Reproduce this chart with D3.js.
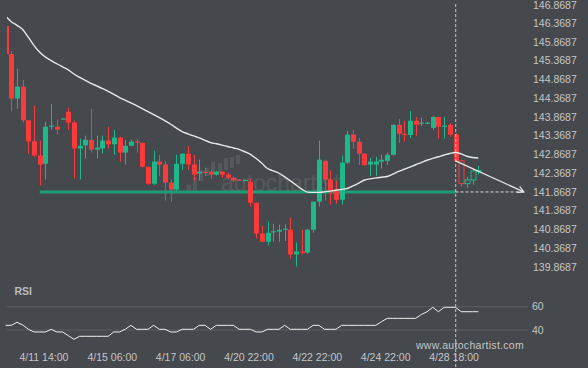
<!DOCTYPE html>
<html><head><meta charset="utf-8">
<script src="https://cdn.jsdelivr.net/npm/d3@7"></script>
<style>html,body{margin:0;padding:0;background:#45484c;overflow:hidden}</style>
</head><body><svg id="c" width="588" height="368"></svg>
<script>
const opens  = [146.30,145.55,144.36,144.68,143.78,143.22,142.84,142.62,143.62,143.61,143.81,144.01,143.72,143.03,143.11,143.26,143.00,143.03,143.24,143.14,143.32,142.92,143.10,143.22,143.18,142.54,142.09,142.68,142.60,142.12,141.93,142.62,142.89,142.60,142.36,142.41,142.41,142.33,142.41,142.33,142.25,142.20,142.18,142.14,141.58,140.76,140.54,140.80,140.81,140.86,140.86,140.20,140.28,140.25,140.86,141.61,142.70,142.20,141.90,141.66,142.65,143.40,143.21,142.89,142.60,142.60,142.68,142.70,142.86,143.66,143.42,143.39,143.77,143.69,143.70,143.58,143.87,143.63,143.66,143.40,142.70,142.09,142.19,142.42];
const highs  = [146.32,145.63,145.16,144.86,143.78,144.17,143.24,143.74,144.22,143.80,143.83,144.12,143.77,143.29,143.37,144.09,143.37,143.37,143.61,143.53,143.34,143.26,143.26,143.29,143.18,142.54,142.97,142.86,142.70,142.20,142.86,142.89,143.10,142.86,142.73,142.52,142.46,142.43,142.42,142.38,142.28,142.21,142.20,142.22,141.58,140.97,141.08,141.02,141.00,141.00,141.18,140.52,140.86,140.89,141.61,143.24,142.73,142.44,142.17,142.84,143.50,143.53,143.31,142.89,142.78,142.81,142.86,142.92,143.68,143.82,143.77,144.03,143.87,143.85,143.74,143.89,143.88,143.87,143.71,143.44,142.73,142.27,142.51,142.57];
const lows   = [145.50,144.02,144.09,143.72,142.89,142.79,142.04,142.20,143.53,143.40,143.81,143.53,142.23,142.20,142.76,142.92,142.76,142.90,143.03,142.86,142.68,142.60,143.10,142.92,142.52,142.06,142.06,142.30,141.64,141.61,141.90,142.46,142.46,142.17,142.17,142.30,142.22,142.31,142.25,142.22,142.14,142.16,142.18,141.47,140.62,140.53,140.44,140.54,140.54,140.56,140.09,139.88,140.20,140.22,140.78,141.48,141.64,141.53,141.56,141.53,142.62,143.02,142.59,142.57,142.30,142.30,142.49,142.59,142.84,143.18,143.21,143.31,143.37,143.63,143.69,143.53,143.29,143.29,143.34,142.68,142.01,141.98,142.06,142.33];
const closes = [145.55,144.36,144.68,143.78,143.22,142.84,142.60,143.61,143.64,143.53,143.83,143.72,143.03,143.10,143.26,143.00,143.05,143.24,143.14,143.32,142.92,143.10,143.21,143.20,142.54,142.09,142.68,142.60,142.12,141.93,142.62,142.89,142.60,142.33,142.41,142.38,142.33,142.41,142.33,142.25,142.17,142.17,142.19,141.58,140.76,140.54,140.78,140.82,140.86,140.89,140.20,140.28,140.25,140.86,141.61,142.73,142.20,141.90,141.66,142.65,143.40,143.21,142.89,142.59,142.68,142.68,142.73,142.86,143.66,143.42,143.39,143.77,143.66,143.72,143.72,143.87,143.61,143.64,143.40,142.70,142.09,142.19,142.43,142.44];
const maValues = [146.567,146.413,146.314,146.202,145.992,145.773,145.594,145.466,145.376,145.290,145.208,145.128,145.016,144.928,144.848,144.768,144.699,144.629,144.555,144.472,144.389,144.317,144.245,144.171,144.091,144.013,143.934,143.851,143.768,143.675,143.574,143.478,143.419,143.363,143.312,143.248,143.187,143.155,143.120,143.083,143.043,143.003,142.942,142.870,142.760,142.635,142.494,142.430,142.368,142.270,142.166,142.054,141.945,141.865,141.857,141.857,141.870,141.891,141.913,141.937,141.961,142.030,142.105,142.187,142.217,142.243,142.262,142.281,142.342,142.417,142.475,142.531,142.595,142.654,142.715,142.763,142.808,142.854,142.896,142.923,142.883,142.822,142.787,142.774];
const rsiValues = [44.0,44.0,46.6,44.3,40.6,38.3,38.3,38.3,40.6,38.3,38.3,35.2,32.0,34.6,34.6,34.6,34.6,34.6,34.6,38.3,38.3,40.6,44.0,40.6,40.6,40.6,44.0,40.6,40.6,38.3,38.3,40.6,40.6,40.6,44.0,44.0,40.6,44.0,44.0,44.0,44.0,40.6,40.6,40.6,38.3,38.3,40.6,40.6,40.6,44.0,40.6,40.6,40.6,40.6,44.0,44.0,40.6,40.6,40.6,44.0,44.0,44.0,44.0,44.0,44.0,44.0,47.1,50.0,50.0,50.0,50.0,50.0,50.0,53.3,55.7,59.5,55.7,59.5,59.5,59.5,55.7,55.7,55.7,55.7];
const tickIndex = [7,19,31,43,55,67,79];
const tickLabels = ["4/11 14:00","4/15 06:00","4/17 06:00","4/20 22:00","4/22 22:00","4/24 22:00","4/28 18:00"];
const priceTicks = [139.8687,140.3687,140.8687,141.3687,141.8687,142.3687,142.8687,143.3687,143.8687,144.3687,144.8687,145.3687,145.8687,146.3687,146.8687];
const rsiTicks = [40,60];
const supportLevel = 141.8687;
const supportStart = 6, patternEnd = 79, projectionEnd = 91;
const projectionStartPrice = 142.70;

const BG = "#45484c", RED = "#fb3b3b", GREEN = "#1db98a", TXT = "#c4c6c8";
const svg = d3.select("#c");
svg.append("rect").attr("width",588).attr("height",368).attr("fill",BG);

const x = d3.scaleLinear().domain([0,83]).range([5.6,478.3]);
const y = d3.scaleLinear().domain([139.8687,146.8687]).range([266.9,4.6]);
const yr = d3.scaleLinear().domain([40,60]).range([330,306.7]);

svg.append("defs").append("clipPath").attr("id","clip")
  .append("rect").attr("x",7).attr("y",0).attr("width",521).attr("height",368);

// watermark
const wm = svg.append("g").attr("opacity",0.09);
[[187,185,4,5],[193,177,4,13],[199,170,4,11],[205,168,4,8],[211,162,4,10],[218,163,4,10],[224,158,4,12],[230,157,4,11],[236,155,4,9]].forEach(r=>{
  wm.append("rect").attr("x",r[0]).attr("y",r[1]).attr("width",r[2]).attr("height",r[3]).attr("fill","#ffffff");
});
wm.append("text").attr("x",221).attr("y",191).attr("font-family","Liberation Sans, Arial, sans-serif")
  .attr("font-size",23).attr("fill","#ffffff").text("autochartist");

// RSI gridlines
svg.append("g").selectAll("line").data(rsiTicks).join("line")
  .attr("x1",7).attr("x2",528).attr("y1",d=>yr(d)).attr("y2",d=>yr(d))
  .attr("stroke","#5b5e62").attr("stroke-width",1);

const plot = svg.append("g").attr("clip-path","url(#clip)");

// support line
plot.append("line").attr("x1",x(supportStart)).attr("x2",x(patternEnd))
  .attr("y1",y(supportLevel)).attr("y2",y(supportLevel))
  .attr("stroke","#1e9d77").attr("stroke-width",3);

// candles
const idx = d3.range(opens.length);
const cg = plot.append("g");
idx.forEach(i=>{
  const up = closes[i] >= opens[i];
  const col = up ? GREEN : RED;
  const hollow = i > patternEnd;
  const cx = Math.round(x(i));
  cg.append("line").attr("x1",cx+0.5).attr("x2",cx+0.5).attr("y1",y(highs[i])).attr("y2",y(lows[i]))
    .attr("stroke",col).attr("stroke-width",1);
  const top = y(Math.max(opens[i],closes[i])), bot = y(Math.min(opens[i],closes[i]));
  const h = Math.max(1.2, bot-top);
  if (hollow) {
    cg.append("rect").attr("x",cx-2).attr("y",top).attr("width",5).attr("height",h)
      .attr("fill",BG).attr("stroke",col).attr("stroke-width",1);
  } else {
    cg.append("rect").attr("x",cx-2).attr("y",top).attr("width",5).attr("height",h).attr("fill",col);
  }
});

// moving average
plot.append("path").datum(maValues)
  .attr("d", d3.line().x((d,i)=>x(i)).y(d=>y(d)).curve(d3.curveMonotoneX))
  .attr("fill","none").attr("stroke","#e8e8e8").attr("stroke-width",1.4);

// projection
const px1 = x(patternEnd), py1 = y(projectionStartPrice), px2 = x(projectionEnd), py2 = y(supportLevel);
svg.append("line").attr("x1",px1).attr("x2",px2).attr("y1",y(supportLevel)).attr("y2",y(supportLevel))
  .attr("stroke","#dcdcdc").attr("stroke-width",1).attr("stroke-dasharray","3,2");
svg.append("line").attr("x1",px1).attr("x2",px2).attr("y1",py1).attr("y2",py2)
  .attr("stroke","#e8e8e8").attr("stroke-width",1.3);
const ang = Math.atan2(py2-py1, px2-px1), al = 7, aw = 0.5;
svg.append("path").attr("d",
  `M${px2-al*Math.cos(ang-aw)},${py2-al*Math.sin(ang-aw)}L${px2},${py2}L${px2-al*Math.cos(ang+aw)},${py2-al*Math.sin(ang+aw)}`)
  .attr("fill","none").attr("stroke","#e8e8e8").attr("stroke-width",1.2);

// vertical dashed line
svg.append("line").attr("x1",x(patternEnd)+0.2).attr("x2",x(patternEnd)+0.2).attr("y1",4).attr("y2",368)
  .attr("stroke","#c8c8c8").attr("stroke-width",1).attr("stroke-dasharray","3,2");

// RSI line
svg.append("path").datum(rsiValues)
  .attr("d", d3.line().x((d,i)=>x(i)).y(d=>yr(d)))
  .attr("fill","none").attr("stroke","#f0f0f0").attr("stroke-width",1);

const font = "Liberation Sans, Arial, Helvetica, sans-serif";
// price axis
svg.append("g").selectAll("text").data(priceTicks).join("text")
  .attr("x",533).attr("y",d=>Math.max(y(d),5.8)).attr("dy","0.35em")
  .attr("font-family",font).attr("font-size",10.5).attr("fill",TXT)
  .text(d=>d.toFixed(4));
// rsi axis
svg.append("g").selectAll("text").data(rsiTicks).join("text")
  .attr("x",532).attr("y",d=>yr(d)).attr("dy","0.35em")
  .attr("font-family",font).attr("font-size",10.5).attr("fill",TXT)
  .text(d=>d);
// x labels
svg.append("g").selectAll("text").data(tickIndex).join("text")
  .attr("x",d=>x(d)-1.5).attr("y",357).attr("dy","0.35em").attr("text-anchor","middle")
  .attr("font-family",font).attr("font-size",10.5).attr("fill",TXT)
  .text((d,i)=>tickLabels[i]);

svg.append("text").attr("x",14.5).attr("y",291).attr("dy","0.35em")
  .attr("font-family",font).attr("font-size",10.5).attr("font-weight","bold").attr("fill","#b9bcc0").text("RSI");
svg.append("text").attr("x",470).attr("y",345).attr("dy","0.35em").attr("text-anchor","middle")
  .attr("font-family",font).attr("font-size",10.5).attr("letter-spacing","0.3").attr("fill",TXT).text("www.autochartist.com");
</script></body></html>
